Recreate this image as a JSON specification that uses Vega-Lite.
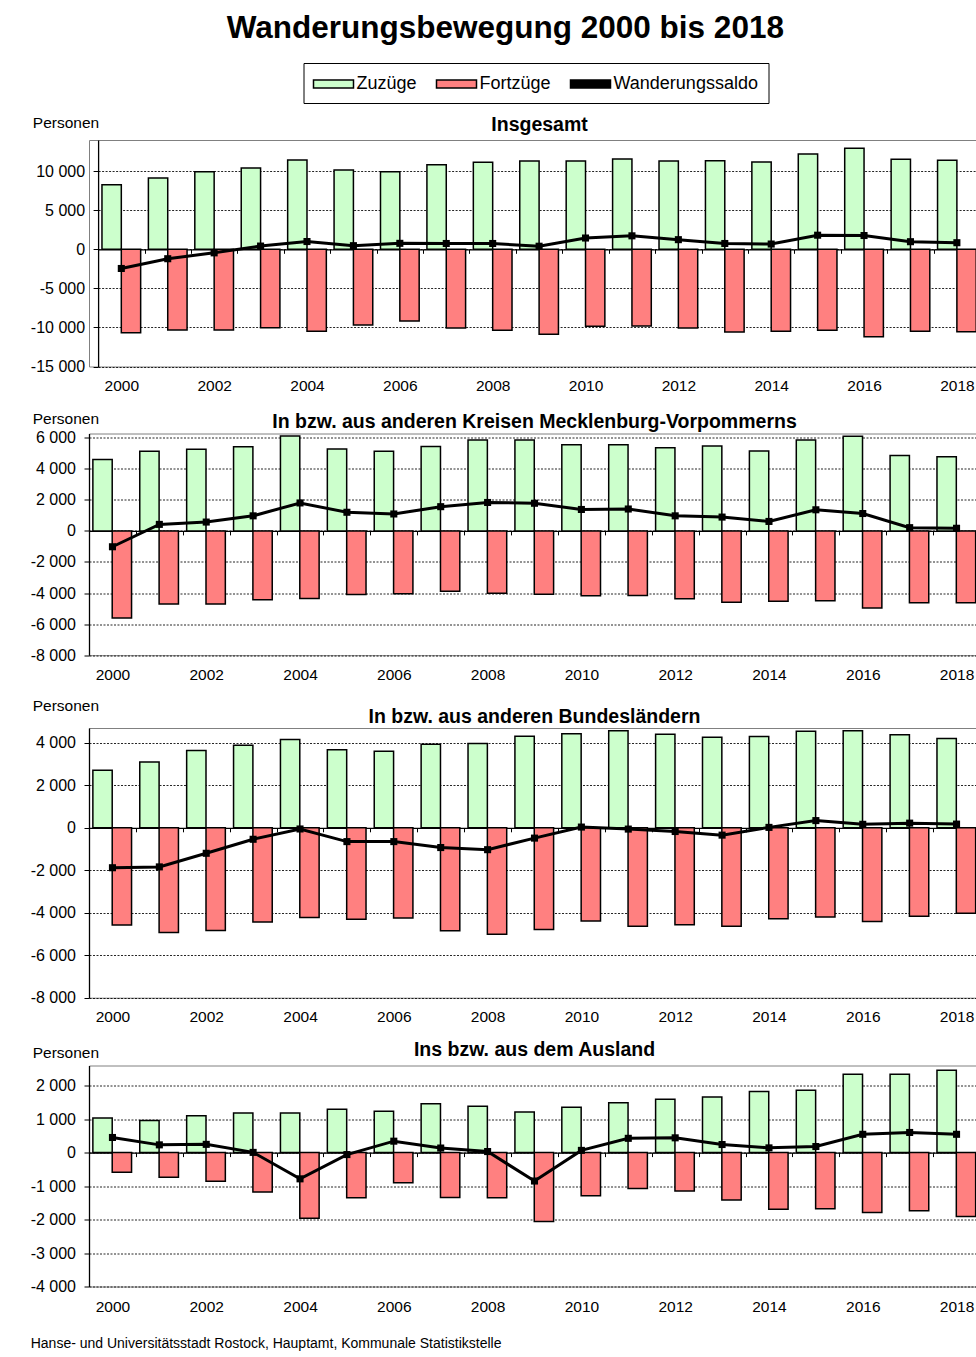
{
  "$schema": "https://vega.github.io/schema/vega-lite/v6.json",
  "padding": {"left": 29, "top": 13, "right": 0, "bottom": 0},
  "background": "white",
  "spacing": 12.5,
  "columns": 1,
  "config": {
    "font": "Liberation Sans",
    "locale": {"number": {"decimal": ",", "thousands": " ", "grouping": [3], "currency": ["", " €"], "minus": "-"}},
    "view": {"stroke": "#808080", "strokeWidth": 1},
    "axis": {"labelFont": "Liberation Sans", "labelColor": "black", "domainColor": "black", "domainWidth": 1.3, "tickColor": "black", "titleFont": "Liberation Sans", "titleColor": "black", "titleFontWeight": "normal"},
    "axisY": {"labelFontSize": 16, "tickSize": 5, "tickCount": 30, "labelPadding": 8.5, "labelOverlap": false, "grid": true, "gridColor": "black", "gridDash": [2, 1.5], "gridWidth": 1, "gridOpacity": 0.85, "format": ",d", "titleAngle": 0, "titleAlign": "left", "titleBaseline": "alphabetic", "titleFontSize": 15.5},
    "axisX": {"labelFontSize": 15.5, "labelAngle": 0, "labelOverlap": false, "tickBand": "extent", "tickSize": 4, "grid": false, "labelExpr": "toNumber(datum.value) % 2 === 0 ? datum.label : ''"},
    "title": {"font": "Liberation Sans", "color": "black", "fontWeight": "bold"},
    "legend": {"orient": "none", "legendX": 214.5, "legendY": -77, "direction": "horizontal", "labelFont": "Liberation Sans", "labelFontSize": 18, "labelColor": "black", "labelOffset": 12, "symbolOffset": 9, "columnPadding": 16, "padding": 10, "strokeColor": "black", "fillColor": "white", "symbolSize": 400, "symbolStrokeWidth": 1.5}
  },
  "title": {"text": "Wanderungsbewegung 2000 bis 2018", "fontSize": 31.5, "anchor": "middle", "offset": 18},
  "datasets": {
    "insgesamt": [
      {"Jahr": 2000, "Zuzüge": 8280, "Fortzüge": -10670, "Wanderungssaldo": -2450},
      {"Jahr": 2001, "Zuzüge": 9130, "Fortzüge": -10330, "Wanderungssaldo": -1200},
      {"Jahr": 2002, "Zuzüge": 9940, "Fortzüge": -10330, "Wanderungssaldo": -450},
      {"Jahr": 2003, "Zuzüge": 10410, "Fortzüge": -10030, "Wanderungssaldo": 420},
      {"Jahr": 2004, "Zuzüge": 11440, "Fortzüge": -10500, "Wanderungssaldo": 1000},
      {"Jahr": 2005, "Zuzüge": 10160, "Fortzüge": -9690, "Wanderungssaldo": 470},
      {"Jahr": 2006, "Zuzüge": 9940, "Fortzüge": -9180, "Wanderungssaldo": 770},
      {"Jahr": 2007, "Zuzüge": 10840, "Fortzüge": -10070, "Wanderungssaldo": 750},
      {"Jahr": 2008, "Zuzüge": 11140, "Fortzüge": -10370, "Wanderungssaldo": 750},
      {"Jahr": 2009, "Zuzüge": 11310, "Fortzüge": -10880, "Wanderungssaldo": 400},
      {"Jahr": 2010, "Zuzüge": 11310, "Fortzüge": -9860, "Wanderungssaldo": 1450},
      {"Jahr": 2011, "Zuzüge": 11570, "Fortzüge": -9820, "Wanderungssaldo": 1730},
      {"Jahr": 2012, "Zuzüge": 11310, "Fortzüge": -10070, "Wanderungssaldo": 1240},
      {"Jahr": 2013, "Zuzüge": 11350, "Fortzüge": -10580, "Wanderungssaldo": 750},
      {"Jahr": 2014, "Zuzüge": 11180, "Fortzüge": -10500, "Wanderungssaldo": 680},
      {"Jahr": 2015, "Zuzüge": 12210, "Fortzüge": -10370, "Wanderungssaldo": 1810},
      {"Jahr": 2016, "Zuzüge": 12930, "Fortzüge": -11180, "Wanderungssaldo": 1770},
      {"Jahr": 2017, "Zuzüge": 11520, "Fortzüge": -10500, "Wanderungssaldo": 980},
      {"Jahr": 2018, "Zuzüge": 11400, "Fortzüge": -10540, "Wanderungssaldo": 850}
    ],
    "mv": [
      {"Jahr": 2000, "Zuzüge": 4590, "Fortzüge": -5610, "Wanderungssaldo": -1020},
      {"Jahr": 2001, "Zuzüge": 5130, "Fortzüge": -4700, "Wanderungssaldo": 420},
      {"Jahr": 2002, "Zuzüge": 5260, "Fortzüge": -4700, "Wanderungssaldo": 570},
      {"Jahr": 2003, "Zuzüge": 5410, "Fortzüge": -4430, "Wanderungssaldo": 970},
      {"Jahr": 2004, "Zuzüge": 6110, "Fortzüge": -4350, "Wanderungssaldo": 1800},
      {"Jahr": 2005, "Zuzüge": 5280, "Fortzüge": -4090, "Wanderungssaldo": 1200},
      {"Jahr": 2006, "Zuzüge": 5130, "Fortzüge": -4040, "Wanderungssaldo": 1090},
      {"Jahr": 2007, "Zuzüge": 5430, "Fortzüge": -3890, "Wanderungssaldo": 1560},
      {"Jahr": 2008, "Zuzüge": 5850, "Fortzüge": -4020, "Wanderungssaldo": 1830},
      {"Jahr": 2009, "Zuzüge": 5850, "Fortzüge": -4070, "Wanderungssaldo": 1780},
      {"Jahr": 2010, "Zuzüge": 5540, "Fortzüge": -4170, "Wanderungssaldo": 1380},
      {"Jahr": 2011, "Zuzüge": 5540, "Fortzüge": -4150, "Wanderungssaldo": 1410},
      {"Jahr": 2012, "Zuzüge": 5350, "Fortzüge": -4370, "Wanderungssaldo": 970},
      {"Jahr": 2013, "Zuzüge": 5460, "Fortzüge": -4590, "Wanderungssaldo": 890},
      {"Jahr": 2014, "Zuzüge": 5150, "Fortzüge": -4520, "Wanderungssaldo": 610},
      {"Jahr": 2015, "Zuzüge": 5850, "Fortzüge": -4500, "Wanderungssaldo": 1360},
      {"Jahr": 2016, "Zuzüge": 6090, "Fortzüge": -4960, "Wanderungssaldo": 1120},
      {"Jahr": 2017, "Zuzüge": 4850, "Fortzüge": -4630, "Wanderungssaldo": 210},
      {"Jahr": 2018, "Zuzüge": 4780, "Fortzüge": -4630, "Wanderungssaldo": 170}
    ],
    "bl": [
      {"Jahr": 2000, "Zuzüge": 2710, "Fortzüge": -4580, "Wanderungssaldo": -1880},
      {"Jahr": 2001, "Zuzüge": 3100, "Fortzüge": -4930, "Wanderungssaldo": -1840},
      {"Jahr": 2002, "Zuzüge": 3640, "Fortzüge": -4830, "Wanderungssaldo": -1200},
      {"Jahr": 2003, "Zuzüge": 3890, "Fortzüge": -4430, "Wanderungssaldo": -540},
      {"Jahr": 2004, "Zuzüge": 4160, "Fortzüge": -4220, "Wanderungssaldo": -55},
      {"Jahr": 2005, "Zuzüge": 3670, "Fortzüge": -4300, "Wanderungssaldo": -650},
      {"Jahr": 2006, "Zuzüge": 3610, "Fortzüge": -4250, "Wanderungssaldo": -650},
      {"Jahr": 2007, "Zuzüge": 3940, "Fortzüge": -4850, "Wanderungssaldo": -930},
      {"Jahr": 2008, "Zuzüge": 3970, "Fortzüge": -5010, "Wanderungssaldo": -1030},
      {"Jahr": 2009, "Zuzüge": 4310, "Fortzüge": -4790, "Wanderungssaldo": -485},
      {"Jahr": 2010, "Zuzüge": 4430, "Fortzüge": -4390, "Wanderungssaldo": 35},
      {"Jahr": 2011, "Zuzüge": 4570, "Fortzüge": -4630, "Wanderungssaldo": -60},
      {"Jahr": 2012, "Zuzüge": 4410, "Fortzüge": -4570, "Wanderungssaldo": -175},
      {"Jahr": 2013, "Zuzüge": 4270, "Fortzüge": -4630, "Wanderungssaldo": -345},
      {"Jahr": 2014, "Zuzüge": 4300, "Fortzüge": -4280, "Wanderungssaldo": 20},
      {"Jahr": 2015, "Zuzüge": 4550, "Fortzüge": -4200, "Wanderungssaldo": 340},
      {"Jahr": 2016, "Zuzüge": 4570, "Fortzüge": -4410, "Wanderungssaldo": 165},
      {"Jahr": 2017, "Zuzüge": 4380, "Fortzüge": -4160, "Wanderungssaldo": 220},
      {"Jahr": 2018, "Zuzüge": 4200, "Fortzüge": -4020, "Wanderungssaldo": 175}
    ],
    "ausland": [
      {"Jahr": 2000, "Zuzüge": 1030, "Fortzüge": -590, "Wanderungssaldo": 450},
      {"Jahr": 2001, "Zuzüge": 955, "Fortzüge": -740, "Wanderungssaldo": 230},
      {"Jahr": 2002, "Zuzüge": 1100, "Fortzüge": -860, "Wanderungssaldo": 245},
      {"Jahr": 2003, "Zuzüge": 1180, "Fortzüge": -1180, "Wanderungssaldo": 5},
      {"Jahr": 2004, "Zuzüge": 1180, "Fortzüge": -1960, "Wanderungssaldo": -785},
      {"Jahr": 2005, "Zuzüge": 1290, "Fortzüge": -1350, "Wanderungssaldo": -60},
      {"Jahr": 2006, "Zuzüge": 1230, "Fortzüge": -905, "Wanderungssaldo": 340},
      {"Jahr": 2007, "Zuzüge": 1460, "Fortzüge": -1340, "Wanderungssaldo": 135},
      {"Jahr": 2008, "Zuzüge": 1380, "Fortzüge": -1350, "Wanderungssaldo": 30},
      {"Jahr": 2009, "Zuzüge": 1210, "Fortzüge": -2060, "Wanderungssaldo": -850},
      {"Jahr": 2010, "Zuzüge": 1350, "Fortzüge": -1290, "Wanderungssaldo": 65},
      {"Jahr": 2011, "Zuzüge": 1490, "Fortzüge": -1070, "Wanderungssaldo": 425},
      {"Jahr": 2012, "Zuzüge": 1590, "Fortzüge": -1150, "Wanderungssaldo": 440},
      {"Jahr": 2013, "Zuzüge": 1660, "Fortzüge": -1420, "Wanderungssaldo": 240},
      {"Jahr": 2014, "Zuzüge": 1820, "Fortzüge": -1690, "Wanderungssaldo": 140},
      {"Jahr": 2015, "Zuzüge": 1860, "Fortzüge": -1680, "Wanderungssaldo": 180},
      {"Jahr": 2016, "Zuzüge": 2340, "Fortzüge": -1790, "Wanderungssaldo": 545},
      {"Jahr": 2017, "Zuzüge": 2340, "Fortzüge": -1740, "Wanderungssaldo": 600},
      {"Jahr": 2018, "Zuzüge": 2460, "Fortzüge": -1910, "Wanderungssaldo": 545}
    ]
  },
  "concat": [
    {
      "data": {"name": "insgesamt"},
      "width": 891.1, "height": 226.5,
      "title": {"text": "Insgesamt", "fontSize": 19.5, "anchor": "middle", "frame": "group", "baseline": "alphabetic", "offset": -35, "dx": 5},
      "layer": [
        {
          "transform": [{"fold": ["Zuzüge", "Fortzüge"], "as": ["Reihe", "Wert"]}],
          "mark": {"type": "bar", "stroke": "black", "strokeWidth": 1.5},
          "encoding": {
            "x": {"field": "Jahr", "type": "ordinal", "scale": {"paddingInner": 0, "paddingOuter": 0, "range": [9.1, 891.1]}, "axis": {"title": "\u00a0", "titleFontSize": 8, "titleBaseline": "bottom", "titleY": 148, "offset": -117.2, "labelPadding": 125}},
            "xOffset": {"field": "Reihe", "sort": ["Zuzüge", "Fortzüge"], "scale": {"paddingOuter": 0.2, "paddingInner": 0}},
            "y": {"field": "Wert", "type": "quantitative", "scale": {"domain": [-15000, 14000], "nice": false}, "axis": {"offset": -9.1, "values": [-15000, -10000, -5000, 0, 5000, 10000], "title": "Personen", "titleX": -65.8, "titleY": -13}},
            "color": {"field": "Reihe", "type": "nominal", "scale": {"domain": ["Zuzüge", "Fortzüge", "Wanderungssaldo"], "range": ["#CCFFCC", "#FF8080", "#000000"]},
              "legend": {"title": null, "values": ["Zuzüge", "Fortzüge", "Wanderungssaldo"], "symbolType": "M-2,-0.4H2V0.4H-2Z", "symbolStrokeColor": "black"}}
          }
        },
        {
          "mark": {"type": "line", "color": "black", "strokeWidth": 3, "point": {"shape": "square", "size": 50, "filled": true, "color": "black"}},
          "encoding": {
            "x": {"field": "Jahr", "type": "ordinal"},
            "y": {"field": "Wanderungssaldo", "type": "quantitative"}
          }
        }
      ]
    },
    {
      "data": {"name": "mv"},
      "width": 891, "height": 221.7,
      "title": {"text": "In bzw. aus anderen Kreisen Mecklenburg-Vorpommerns", "fontSize": 19.5, "anchor": "middle", "frame": "group", "baseline": "alphabetic", "offset": -36.3},
      "layer": [
        {
          "transform": [{"fold": ["Zuzüge", "Fortzüge"], "as": ["Reihe", "Wert"]}],
          "mark": {"type": "bar", "stroke": "black", "strokeWidth": 1.5},
          "encoding": {
            "x": {"field": "Jahr", "type": "ordinal", "scale": {"paddingInner": 0, "paddingOuter": 0}, "axis": {"title": null, "offset": -124.3, "labelPadding": 133}},
            "xOffset": {"field": "Reihe", "sort": ["Zuzüge", "Fortzüge"], "scale": {"paddingOuter": 0.2, "paddingInner": 0}},
            "y": {"field": "Wert", "type": "quantitative", "scale": {"domain": [-8000, 6270], "nice": false}, "axis": {"values": [-8000, -6000, -4000, -2000, 0, 2000, 4000, 6000], "title": "Personen", "titleX": -56.8, "titleY": -10}},
            "fill": {"field": "Reihe", "type": "nominal", "scale": {"domain": ["Zuzüge", "Fortzüge"], "range": ["#CCFFCC", "#FF8080"]}, "legend": null}
          }
        },
        {
          "mark": {"type": "line", "color": "black", "strokeWidth": 3, "point": {"shape": "square", "size": 50, "filled": true, "color": "black"}},
          "encoding": {
            "x": {"field": "Jahr", "type": "ordinal"},
            "y": {"field": "Wanderungssaldo", "type": "quantitative"}
          }
        }
      ]
    },
    {
      "data": {"name": "bl"},
      "width": 891, "height": 269.7,
      "title": {"text": "In bzw. aus anderen Bundesländern", "fontSize": 19.5, "anchor": "middle", "frame": "group", "baseline": "alphabetic", "offset": -43.6},
      "layer": [
        {
          "transform": [{"fold": ["Zuzüge", "Fortzüge"], "as": ["Reihe", "Wert"]}],
          "mark": {"type": "bar", "stroke": "black", "strokeWidth": 1.5},
          "encoding": {
            "x": {"field": "Jahr", "type": "ordinal", "scale": {"paddingInner": 0, "paddingOuter": 0}, "axis": {"title": null, "offset": -169.9, "labelPadding": 178}},
            "xOffset": {"field": "Reihe", "sort": ["Zuzüge", "Fortzüge"], "scale": {"paddingOuter": 0.2, "paddingInner": 0}},
            "y": {"field": "Wert", "type": "quantitative", "scale": {"domain": [-8000, 4700], "nice": false}, "axis": {"values": [-8000, -6000, -4000, -2000, 0, 2000, 4000], "title": "Personen", "titleX": -56.8, "titleY": -17.6}},
            "fill": {"field": "Reihe", "type": "nominal", "scale": {"domain": ["Zuzüge", "Fortzüge"], "range": ["#CCFFCC", "#FF8080"]}, "legend": null}
          }
        },
        {
          "mark": {"type": "line", "color": "black", "strokeWidth": 3, "point": {"shape": "square", "size": 50, "filled": true, "color": "black"}},
          "encoding": {
            "x": {"field": "Jahr", "type": "ordinal"},
            "y": {"field": "Wanderungssaldo", "type": "quantitative"}
          }
        }
      ]
    },
    {
      "data": {"name": "ausland"},
      "width": 891, "height": 221,
      "title": {"text": "Ins bzw. aus dem Ausland", "fontSize": 19.5, "anchor": "middle", "frame": "group", "baseline": "alphabetic", "offset": -29.7},
      "layer": [
        {
          "transform": [{"fold": ["Zuzüge", "Fortzüge"], "as": ["Reihe", "Wert"]}],
          "mark": {"type": "bar", "stroke": "black", "strokeWidth": 1.5},
          "encoding": {
            "x": {"field": "Jahr", "type": "ordinal", "scale": {"paddingInner": 0, "paddingOuter": 0}, "axis": {"title": "Hanse- und Universitätsstadt Rostock, Hauptamt, Kommunale Statistikstelle", "titleFontSize": 14, "titleAlign": "left", "titleBaseline": "alphabetic", "titleX": -58.8, "titleY": 195, "offset": -133.9, "labelPadding": 143}},
            "xOffset": {"field": "Reihe", "sort": ["Zuzüge", "Fortzüge"], "scale": {"paddingOuter": 0.2, "paddingInner": 0}},
            "y": {"field": "Wert", "type": "quantitative", "scale": {"domain": [-4000, 2600], "nice": false}, "axis": {"values": [-4000, -3000, -2000, -1000, 0, 1000, 2000], "title": "Personen", "titleX": -56.8, "titleY": -7.7}},
            "fill": {"field": "Reihe", "type": "nominal", "scale": {"domain": ["Zuzüge", "Fortzüge"], "range": ["#CCFFCC", "#FF8080"]}, "legend": null}
          }
        },
        {
          "mark": {"type": "line", "color": "black", "strokeWidth": 3, "point": {"shape": "square", "size": 50, "filled": true, "color": "black"}},
          "encoding": {
            "x": {"field": "Jahr", "type": "ordinal"},
            "y": {"field": "Wanderungssaldo", "type": "quantitative"}
          }
        }
      ]
    }
  ]
}
